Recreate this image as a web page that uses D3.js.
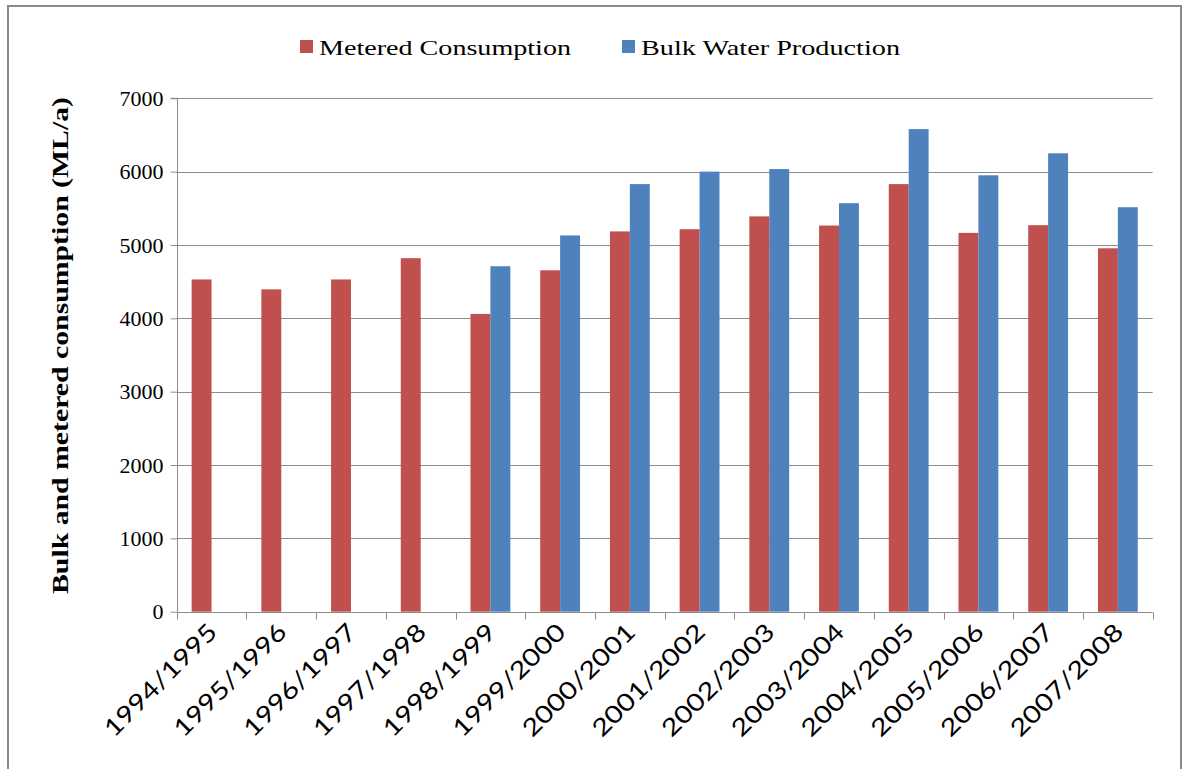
<!DOCTYPE html>
<html>
<head>
<meta charset="utf-8">
<script src="https://cdn.jsdelivr.net/npm/d3@7"></script>
<style>
  html, body { margin: 0; padding: 0; background: #fff; }
  svg { display: block; }
</style>
</head>
<body>
<svg id="chart" width="1183" height="769"></svg>
<script>
const categories = ["1994/1995","1995/1996","1996/1997","1997/1998","1998/1999","1999/2000","2000/2001","2001/2002","2002/2003","2003/2004","2004/2005","2005/2006","2006/2007","2007/2008"];
const seriesNames = ["Metered Consumption", "Bulk Water Production"];
const metered = [4530, 4395, 4530, 4820, 4060, 4655, 5185, 5215, 5390, 5265, 5830, 5165, 5270, 4955];
const bulk = [null, null, null, null, 4710, 5130, 5830, 6000, 6035, 5570, 6580, 5950, 6250, 5515];
const yTicks = [0, 1000, 2000, 3000, 4000, 5000, 6000, 7000];
const colors = ["#C0504D", "#4F81BD"];
const yTitle = "Bulk and metered consumption (ML/a)";

(function () {
const svg = d3.select("#chart");
const serif = "'Liberation Serif', 'DejaVu Serif', serif";
const sans = "Lato, 'Open Sans', sans-serif";

// outer frame
svg.append("rect").attr("x", 8).attr("y", 6).attr("width", 1173).attr("height", 790)
  .attr("fill", "none").attr("stroke", "#8a8a8a").attr("stroke-width", 2);

const pLeft = 176.7, pRight = 1152.7, pTop = 98.3, pBottom = 611.7;
const x0 = d3.scaleBand().domain(categories).range([pLeft, pRight]).paddingInner(0).paddingOuter(0);
const x1 = d3.scaleBand().domain(seriesNames).range([0, x0.bandwidth()]).paddingInner(0).paddingOuter(0.75);
const y = d3.scaleLinear().domain([0, 7000]).range([pBottom, pTop]);

// gridlines
svg.append("g").selectAll("line").data(yTicks.filter(d => d > 0)).join("line")
  .attr("x1", pLeft).attr("x2", pRight)
  .attr("y1", d => Math.round(y(d)) + 0.5).attr("y2", d => Math.round(y(d)) + 0.5)
  .attr("stroke", "#8c8c8c").attr("stroke-width", 1);

// bars
const rows = categories.map((c, i) => ({ c, vals: [metered[i], bulk[i]] }));
const groups = svg.append("g").selectAll("g").data(rows).join("g")
  .attr("transform", d => `translate(${x0(d.c)},0)`);
groups.selectAll("rect").data(d => d.vals.map((v, k) => ({ v, k })).filter(e => e.v != null)).join("rect")
  .attr("x", e => x1(seriesNames[e.k]))
  .attr("width", x1.bandwidth())
  .attr("y", e => y(e.v))
  .attr("height", e => y(0) - y(e.v))
  .attr("fill", e => colors[e.k]);

// y axis
const yAxis = d3.axisLeft(y).tickValues(yTicks).tickSize(7).tickPadding(7).tickFormat(d3.format("d"));
const gy = svg.append("g").attr("transform", `translate(${Math.round(pLeft) + 0.5},0)`).call(yAxis);
gy.select(".domain").attr("stroke", "#8c8c8c").attr("d", `M-7,${y(7000)}H0V${y(0)}`);
gy.selectAll(".tick line").attr("stroke", "#8c8c8c");
gy.selectAll(".tick text").attr("font-family", serif).attr("font-size", 22).attr("fill", "#000");

// x axis
const gx = svg.append("g").attr("transform", `translate(0,${Math.round(pBottom) + 0.5})`);
gx.append("line").attr("x1", pLeft).attr("x2", pRight).attr("stroke", "#8c8c8c");
const bounds = categories.map(c => x0(c)).concat([x0(categories[categories.length - 1]) + x0.bandwidth()]);
gx.selectAll("line.tk").data(bounds).join("line").attr("class", "tk")
  .attr("x1", d => Math.round(d) + 0.5).attr("x2", d => Math.round(d) + 0.5)
  .attr("y1", 0).attr("y2", 7).attr("stroke", "#8c8c8c");
gx.selectAll("text").data(categories).join("text")
  .attr("transform", d => `translate(${x0(d) + x0.bandwidth() / 2 + 7},21) rotate(-45)`)
  .attr("text-anchor", "end")
  .attr("font-family", sans).attr("font-size", 24).attr("fill", "#000")
  .attr("textLength", 148).attr("lengthAdjust", "spacingAndGlyphs")
  .text(d => d);

// y title
svg.append("text")
  .attr("transform", `translate(68,${(97 + 594) / 2}) rotate(-90)`)
  .attr("text-anchor", "middle")
  .attr("font-family", serif).attr("font-weight", "bold").attr("font-size", 23).attr("fill", "#000")
  .attr("textLength", 497).attr("lengthAdjust", "spacingAndGlyphs")
  .text(yTitle);

// legend
const legendX = [300, 622];
const legendW = [252, 259];
const lg = svg.append("g").selectAll("g").data(seriesNames).join("g")
  .attr("transform", (d, i) => `translate(${legendX[i]},0)`);
lg.append("rect").attr("x", 0).attr("y", 40).attr("width", 13).attr("height", 13).attr("fill", (d, i) => colors[i]);
lg.append("text").attr("x", 19).attr("y", 55)
  .attr("font-family", serif).attr("font-size", 22).attr("fill", "#000")
  .attr("textLength", (d, i) => legendW[i]).attr("lengthAdjust", "spacingAndGlyphs")
  .text(d => d);
})();
</script>
</body>
</html>
